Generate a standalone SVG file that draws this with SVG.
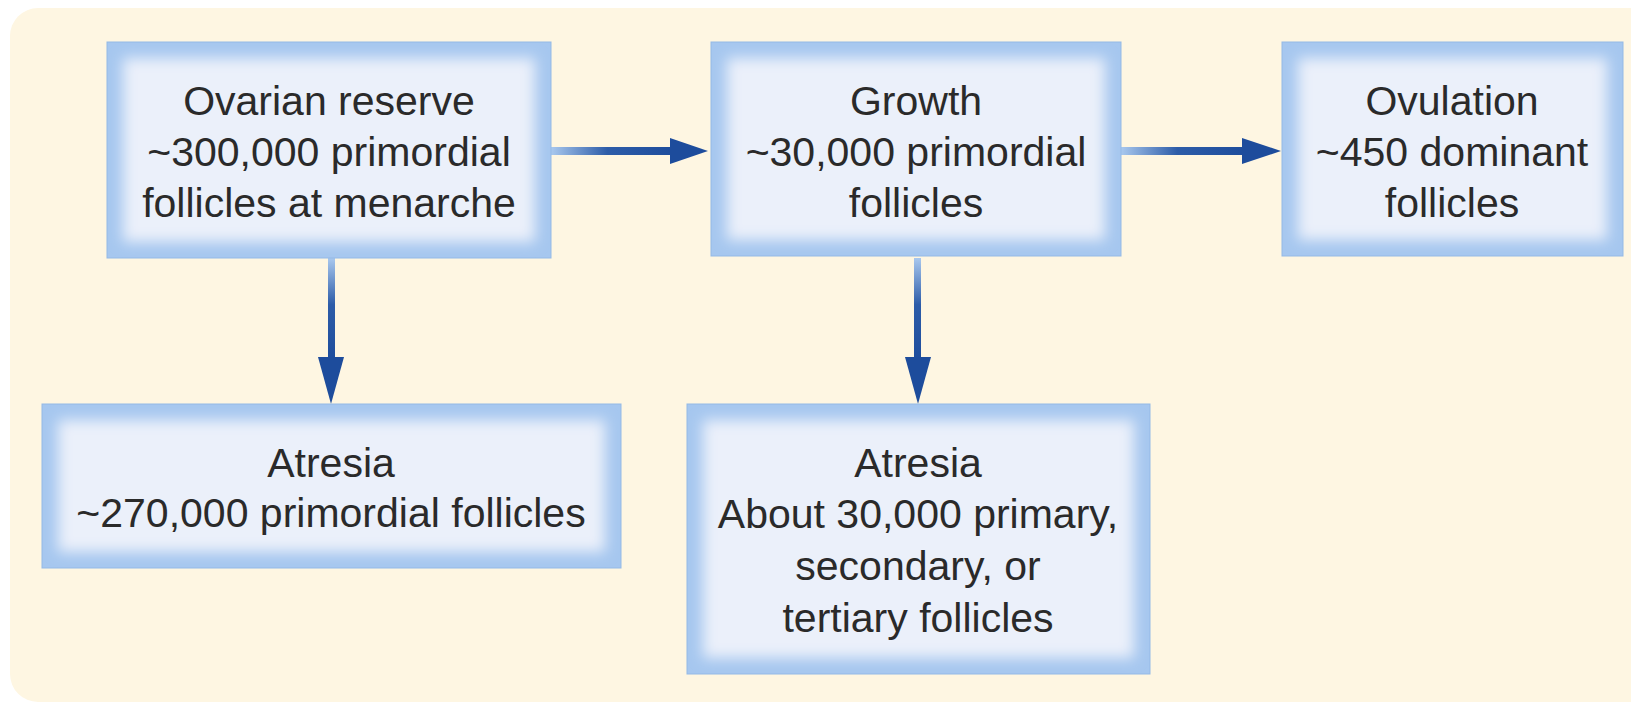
<svg xmlns="http://www.w3.org/2000/svg" width="1631" height="707" viewBox="0 0 1631 707">
<style>
.outer{fill:#a6c7ef;stroke:#94b9e6;stroke-width:1}
.inner{fill:#ebf0fa;filter:url(#soft)}
.t{font-family:"Liberation Sans",Arial,sans-serif;font-size:41px;fill:#2a2a2a;text-anchor:middle}
.head{fill:#1d4c9c}
</style>
<defs>
<filter id="soft" x="-10%" y="-20%" width="120%" height="140%"><feGaussianBlur stdDeviation="7"/></filter>
<linearGradient id="gh" x1="0" y1="0" x2="1" y2="0"><stop offset="0" stop-color="#a9c8ee"/><stop offset="0.45" stop-color="#2d5ca8"/><stop offset="1" stop-color="#1d4c9c"/></linearGradient>
<linearGradient id="gv" x1="0" y1="0" x2="0" y2="1"><stop offset="0" stop-color="#a9c8ee"/><stop offset="0.45" stop-color="#2d5ca8"/><stop offset="1" stop-color="#1d4c9c"/></linearGradient>
</defs>
<rect x="0" y="0" width="1631" height="707" fill="#ffffff"/>
<rect x="10" y="8" width="1660" height="694" rx="28" fill="#fef6e2"/>
<g id="connectors">
<rect x="551" y="147" width="125" height="8" fill="url(#gh)"/>
<polygon class="head" points="670,138 708,151 670,164"/>
<rect x="1121" y="147" width="125" height="8" fill="url(#gh)"/>
<polygon class="head" points="1242,138 1281,151 1242,164"/>
<rect x="328" y="258" width="7" height="104" fill="url(#gv)"/>
<polygon class="head" points="318,357 344,357 331,404"/>
<rect x="914" y="258" width="7" height="104" fill="url(#gv)"/>
<polygon class="head" points="905,357 931,357 918,404"/>
</g>
<g id="n1">
<rect class="outer" x="107" y="42" width="444" height="216"/>
<rect class="inner" x="123" y="58" width="412" height="184"/>
<text class="t" x="329" y="115">Ovarian reserve</text>
<text class="t" x="329" y="166">~300,000 primordial</text>
<text class="t" x="329" y="217">follicles at menarche</text>
</g>
<g id="n2">
<rect class="outer" x="711" y="42" width="410" height="214"/>
<rect class="inner" x="727" y="58" width="378" height="182"/>
<text class="t" x="916" y="115">Growth</text>
<text class="t" x="916" y="166">~30,000 primordial</text>
<text class="t" x="916" y="217">follicles</text>
</g>
<g id="n3">
<rect class="outer" x="1282" y="42" width="341" height="214"/>
<rect class="inner" x="1298" y="58" width="309" height="182"/>
<text class="t" x="1452" y="115">Ovulation</text>
<text class="t" x="1452" y="166">~450 dominant</text>
<text class="t" x="1452" y="217">follicles</text>
</g>
<g id="n4">
<rect class="outer" x="42" y="404" width="579" height="164"/>
<rect class="inner" x="58" y="420" width="547" height="132"/>
<text class="t" x="331" y="477">Atresia</text>
<text class="t" x="331" y="527">~270,000 primordial follicles</text>
</g>
<g id="n5">
<rect class="outer" x="687" y="404" width="463" height="270"/>
<rect class="inner" x="703" y="420" width="431" height="238"/>
<text class="t" x="918" y="477">Atresia</text>
<text class="t" x="918" y="528">About 30,000 primary,</text>
<text class="t" x="918" y="580">secondary, or</text>
<text class="t" x="918" y="632">tertiary follicles</text>
</g>
</svg>
